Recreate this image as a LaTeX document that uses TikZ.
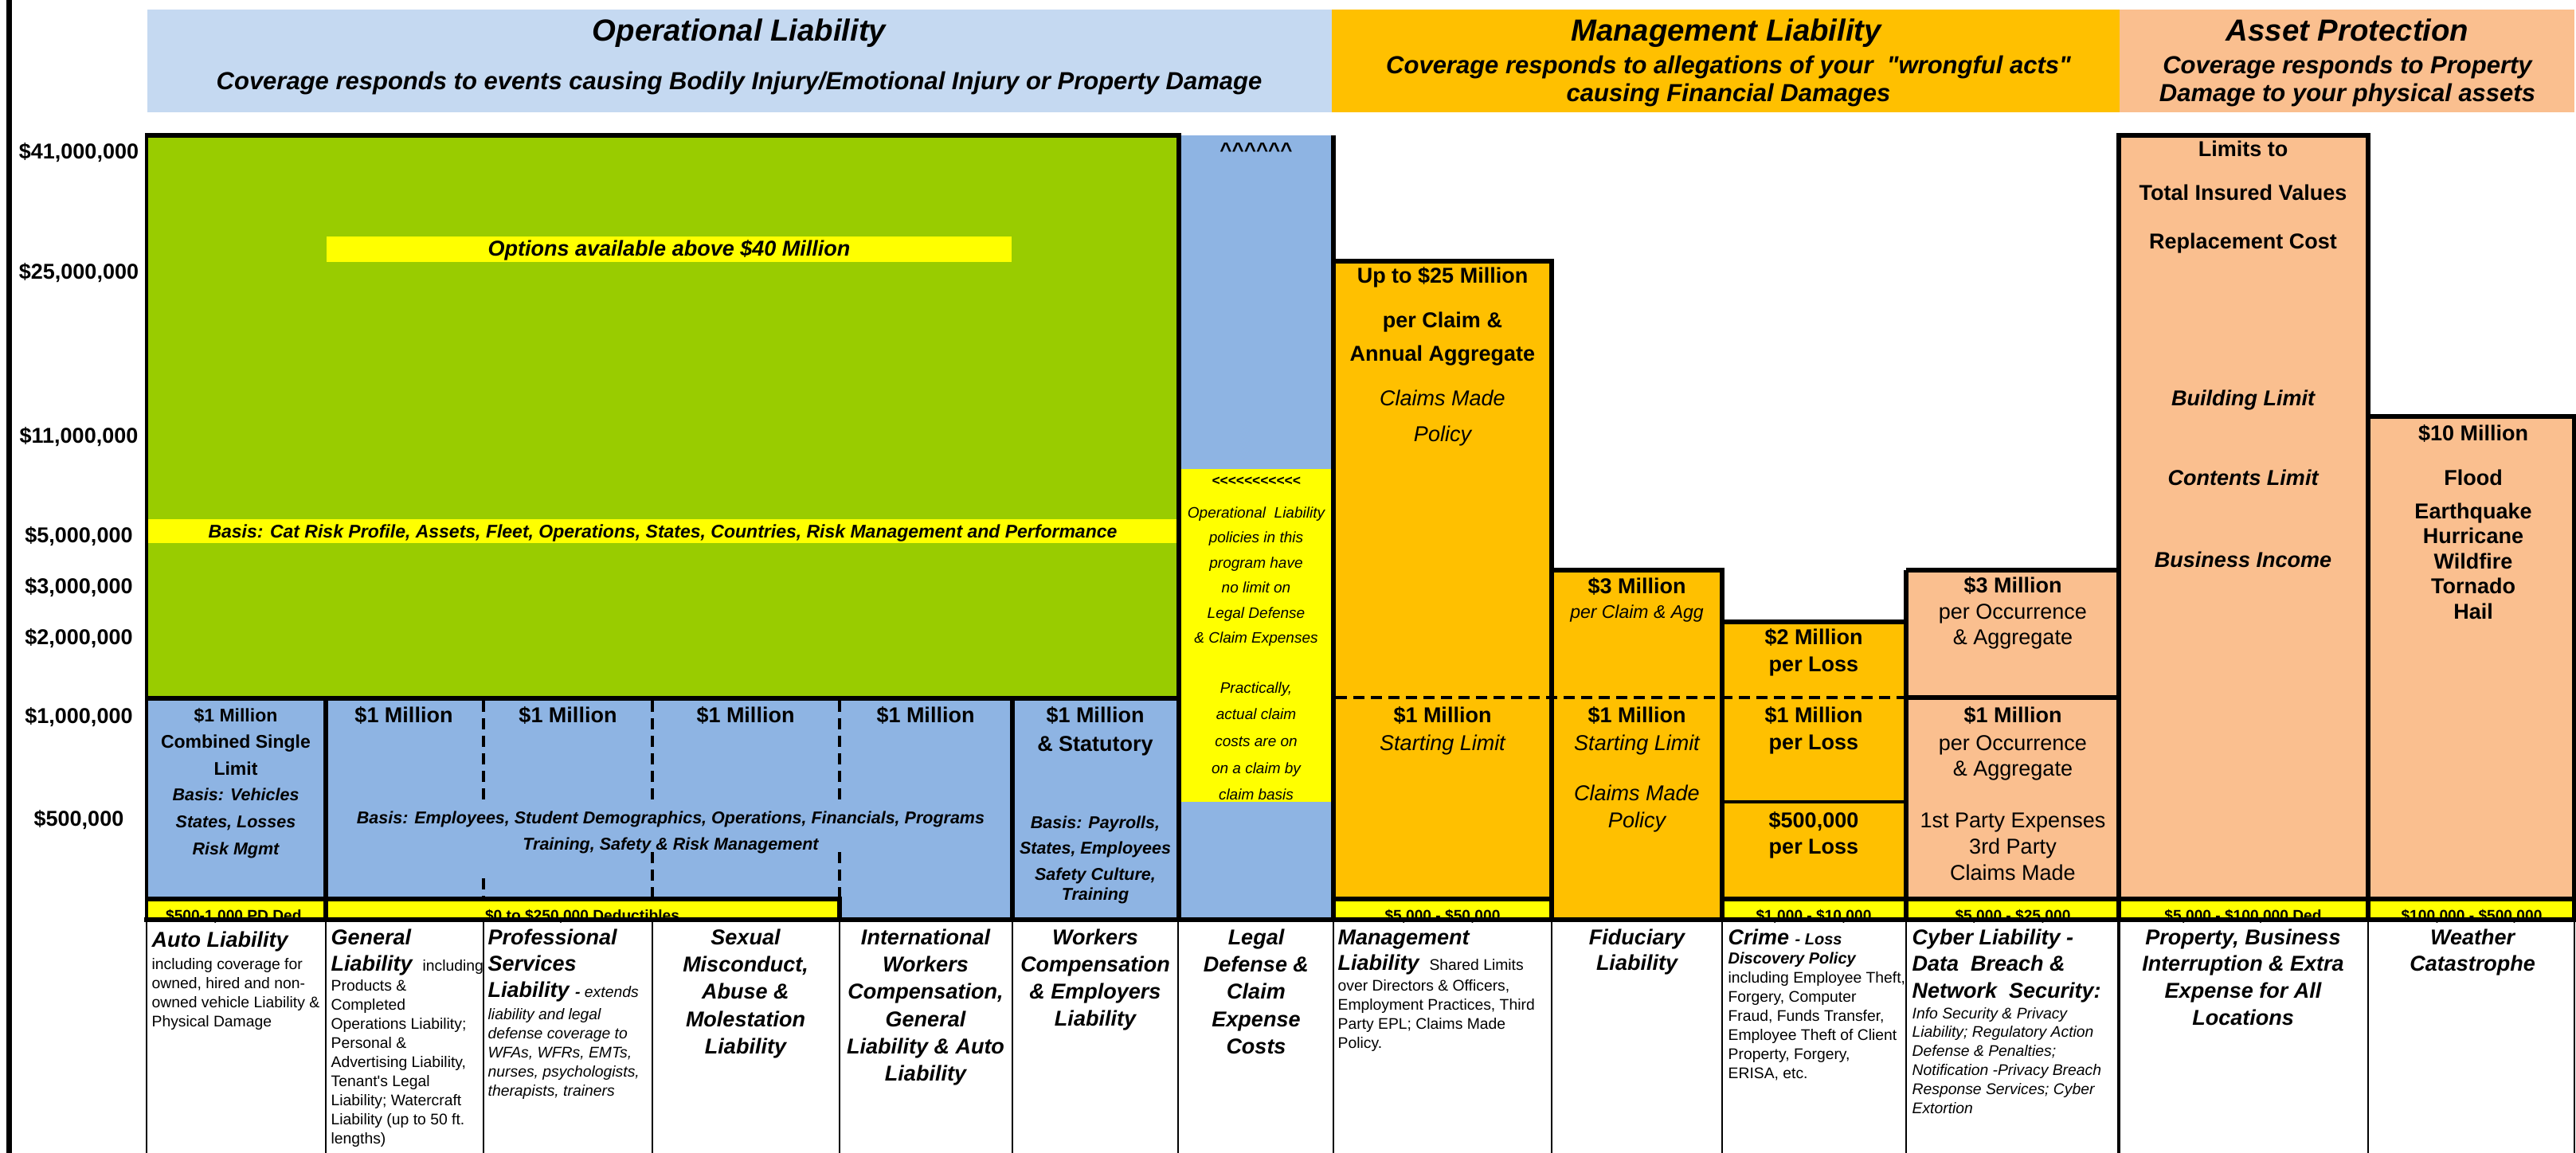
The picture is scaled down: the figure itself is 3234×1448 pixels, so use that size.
\documentclass[tikz,border=0pt]{standalone}
\usepackage{fontspec}
\newfontfamily\arial{Liberation Sans}
\definecolor{hdrblue}{HTML}{C5D9F1}
\definecolor{opgreen}{HTML}{99CC00}
\definecolor{opblue}{HTML}{8EB4E3}
\definecolor{mgmtorange}{HTML}{FFC000}
\definecolor{assetpeach}{HTML}{FABF8F}
\definecolor{dedyellow}{HTML}{FFFF00}
\newcommand{\setfs}[1]{\fontsize{#1}{#1}\selectfont}
\newcommand{\cblk}[3]{\parbox[t]{280pt}{\centering\fontsize{#1}{#2}\selectfont #3}}
\newcommand{\lblk}[3]{\parbox[t]{280pt}{\raggedright\fontsize{#1}{#2}\selectfont #3}}
\begin{document}
\arial
\begin{tikzpicture}[x=0.3pt,y=-0.3pt,
  tx/.style={inner sep=0pt,anchor=base},
  txw/.style={inner sep=0pt,anchor=base west},
  ylab/.style={tx,font=\setfs{8.1pt}\bfseries},
  hdr/.style={tx,font=\setfs{11.5pt}\bfseries\itshape},
  big/.style={tx,font=\setfs{8.1pt}\bfseries},
  bigit/.style={tx,font=\setfs{8.1pt}\itshape},
  bigbi/.style={tx,font=\setfs{8.1pt}\bfseries\itshape},
  ded/.style={tx,font=\setfs{5.75pt}\bfseries},
  rule/.style={line width=1.8pt},
  midrule/.style={line width=1.2pt},
  hair/.style={line width=0.75pt},
  dashrule/.style={line width=1.2pt,dash pattern=on 4.2pt off 2.4pt}]

\fill[white] (0,0) rectangle (3234,1448);
\useasboundingbox (0,0) rectangle (3234,1448);

% ---------- header bands ----------
\fill[hdrblue] (185,12) rectangle (1672,141);
\fill[mgmtorange] (1672,12) rectangle (2661,141);
\fill[assetpeach] (2661,12) rectangle (3232,141);

\node[hdr] (opTitle) at (928,52) {Operational Liability};
\node[tx,font=\setfs{9.3pt}\bfseries\itshape] (opSub) at (928,113)
  {Coverage responds to events causing Bodily Injury/Emotional Injury or Property Damage};
\node[hdr] (mgTitle) at (2167,52) {Management Liability};
\node[tx,font=\bfseries\itshape] (mgSub) at (2170,93)
  {\cblk{9.3pt}{10.5pt}{Coverage responds to allegations of your\ \ "wrongful acts"\\causing Financial Damages}};
\node[hdr] (asTitle) at (2947,52) {Asset Protection};
\node[tx,font=\bfseries\itshape] (asSub) at (2947,93)
  {\cblk{9.3pt}{10.5pt}{Coverage responds to Property\\Damage to your physical assets}};

% ---------- limit axis ----------
\node[ylab] (y41) at (99,199.5) {\$41,000,000};
\node[ylab] (y25) at (99,351) {\$25,000,000};
\node[ylab] (y11) at (99,556.5) {\$11,000,000};
\node[ylab] (y5m) at (99,681.5) {\$5,000,000};
\node[ylab] (y3m) at (99,745.5) {\$3,000,000};
\node[ylab] (y2m) at (99,809.5) {\$2,000,000};
\node[ylab] (y1m) at (99,908.5) {\$1,000,000};
\node[ylab] (y500) at (99,1037.5) {\$500,000};

% ---------- column fills ----------
\fill[opgreen] (184,170) rectangle (1480,877);
\fill[opblue] (1480,170) rectangle (1674,1155);
\fill[dedyellow] (1480,589) rectangle (1674,1007);
\fill[opblue] (184,877) rectangle (1480,1155);
\fill[dedyellow] (184,1129) rectangle (1054,1155);
\fill[mgmtorange] (1674,328) rectangle (1948,1155);
\fill[mgmtorange] (1948,716) rectangle (2162,1155);
\fill[mgmtorange] (2162,781) rectangle (2393,1155);
\fill[assetpeach] (2393,716) rectangle (2660,1155);
\fill[assetpeach] (2660,170) rectangle (2973,1155);
\fill[assetpeach] (2973,523) rectangle (3232,1155);
\fill[dedyellow] (1674,1129) rectangle (1948,1155);
\fill[dedyellow] (2162,1129) rectangle (3232,1155);
\fill[dedyellow] (410,297) rectangle (1270,329);
\fill[dedyellow] (184,652) rectangle (1480,682);

% ---------- operational liability ----------
\node[bigbi] (optBanner) at (840,322) {Options available above \$40 Million};
\node[tx,font=\setfs{6.9pt}\bfseries\itshape] (catBasis) at (832,675)
  {Basis: Cat Risk Profile, Assets, Fleet, Operations, States, Countries, Risk Management and Performance};

\node[tx,font=\bfseries] (autoLim) at (296,906)
  {\cblk{6.9pt}{10.1pt}{\$1 Million\\Combined Single\\Limit}};
\node[tx,font=\bfseries\itshape] (autoBasis) at (296,1005)
  {\cblk{6.45pt}{10.2pt}{Basis: Vehicles\\States, Losses\\Risk Mgmt}};
\node[big] (genLim) at (507,907) {\$1 Million};
\node[big] (proLim) at (713,907) {\$1 Million};
\node[big] (sexLim) at (936,907) {\$1 Million};
\node[big] (intLim) at (1162,907) {\$1 Million};
\node[big] (wcLim) at (1375,907) {\$1 Million};
\node[big] (wcStat) at (1375,943) {\& Statutory};
\node[tx,font=\bfseries\itshape] (genBasis) at (842,1034)
  {\cblk{6.45pt}{9.9pt}{Basis: Employees, Student Demographics, Operations, Financials, Programs\\Training, Safety \& Risk Management}};
\node[tx,font=\bfseries\itshape] (wcBasis) at (1375,1040)
  {\cblk{6.45pt}{9.75pt}{Basis: Payrolls,\\States, Employees\\Safety Culture,}};
\node[tx,font=\setfs{6.45pt}\bfseries\itshape] (wcBasisEnd) at (1375,1130) {Training};

% legal defense column
\node[tx,font=\setfs{7.8pt}\bfseries] (carets) at (1577,198)
  {\textasciicircum\textasciicircum\textasciicircum\textasciicircum\textasciicircum\textasciicircum};
\node[tx,font=\setfs{5.2pt}\bfseries\itshape] (leftArrows) at (1577,609) {<<<<<<<<<<<};
\node[tx,font=\itshape] (legalNote) at (1577,650)
  {\cblk{5.7pt}{9.48pt}{Operational\ \ Liability\\policies in this\\program have\\no limit on\\Legal Defense\\\& Claim Expenses}};
\node[tx,font=\itshape] (legalNote2) at (1577,870)
  {\cblk{5.7pt}{10.1pt}{Practically,\\actual claim\\costs are on\\on a claim by\\claim basis}};

% ---------- management liability ----------
\node[big] (mgUp) at (1811,355) {Up to \$25 Million};
\node[tx,font=\bfseries] (mgPer) at (1811,412) {\cblk{8.1pt}{12.6pt}{per Claim \&\\Annual Aggregate}};
\node[tx,font=\itshape] (mgCm) at (1811,509) {\cblk{8.1pt}{13.5pt}{Claims Made\\Policy}};
\node[big] (mgOne) at (1811,907) {\$1 Million};
\node[bigit] (mgStart) at (1811,942) {Starting Limit};

\node[big] (fdThree) at (2055,745) {\$3 Million};
\node[tx,font=\setfs{6.9pt}\itshape] (fdAgg) at (2055,776) {per Claim \& Agg};
\node[big] (fdOne) at (2055,907) {\$1 Million};
\node[bigit] (fdStart) at (2055,942) {Starting Limit};
\node[tx,font=\itshape] (fdCm) at (2055,1005) {\cblk{8.1pt}{10.2pt}{Claims Made\\Policy}};

\node[tx,font=\bfseries] (crTwo) at (2277,809) {\cblk{8.1pt}{10.2pt}{\$2 Million\\per Loss}};
\node[tx,font=\bfseries] (crOne) at (2277,907) {\cblk{8.1pt}{10.4pt}{\$1 Million\\per Loss}};
\node[tx,font=\bfseries] (crHalf) at (2277,1039) {\cblk{8.1pt}{9.9pt}{\$500,000\\per Loss}};

% ---------- asset protection ----------
\node[big] (cyThree) at (2527,744) {\$3 Million};
\node[tx] (cyOcc) at (2527,777) {\cblk{8.1pt}{9.6pt}{per Occurrence\\\& Aggregate}};
\node[big] (cyOne) at (2527,907) {\$1 Million};
\node[tx] (cyOcc2) at (2527,942) {\cblk{8.1pt}{9.6pt}{per Occurrence\\\& Aggregate}};
\node[tx] (cyParty) at (2527,1039) {\cblk{8.1pt}{9.9pt}{1st Party Expenses\\3rd Party\\Claims Made}};

\node[big] (prLim) at (2816,197) {Limits to};
\node[big] (prTiv) at (2816,252) {Total Insured Values};
\node[big] (prRc) at (2816,313) {Replacement Cost};
\node[bigbi] (prBld) at (2816,509) {Building Limit};
\node[bigbi] (prCnt) at (2816,609) {Contents Limit};
\node[bigbi] (prBi) at (2816,712) {Business Income};

\node[big] (wxTen) at (3105,553) {\$10 Million};
\node[big] (wxFlood) at (3105,609) {Flood};
\node[tx,font=\bfseries] (wxPerils) at (3105,651) {\cblk{8.1pt}{9.45pt}{Earthquake\\Hurricane\\Wildfire\\Tornado\\Hail}};

% ---------- deductibles ----------
\node[ded] (dedAuto) at (296,1156) {\$500-1,000 PD Ded.};
\node[ded] (dedGen) at (731,1156) {\$0 to \$250,000 Deductibles};
\node[ded] (dedMg) at (1811,1156) {\$5,000 - \$50,000};
\node[ded] (dedCr) at (2277,1156) {\$1,000 - \$10,000};
\node[ded] (dedCy) at (2527,1156) {\$5,000 - \$25,000};
\node[ded] (dedPr) at (2816,1156) {\$5,000 - \$100,000 Ded};
\node[ded] (dedWx) at (3103,1156) {\$100,000 - \$500,000};

% ---------- coverage descriptions ----------
\node[txw,font=\setfs{8.1pt}\bfseries\itshape] (dAutoT) at (190,1189) {Auto Liability};
\node[txw] (dAutoB) at (190,1217)
  {\lblk{5.8pt}{7.2pt}{including coverage for\\owned, hired and non-\\owned vehicle Liability \&\\Physical Damage}};
\node[txw,font=\bfseries\itshape] (dGenT) at (415,1186)
  {\lblk{8.1pt}{9.9pt}{General\\Liability {\mdseries\upshape\setfs{5.8pt} including}}};
\node[txw] (dGenB) at (415,1244)
  {\lblk{5.8pt}{7.23pt}{Products \&\\Completed\\Operations Liability;\\Personal \&\\Advertising Liability,\\Tenant's Legal\\Liability; Watercraft\\Liability (up to 50 ft.\\lengths)}};
\node[txw,font=\bfseries\itshape] (dProT) at (612,1186)
  {\lblk{8.1pt}{9.9pt}{Professional\\Services\\Liability {\setfs{5.8pt}- {\mdseries extends}}}};
\node[txw,font=\itshape] (dProB) at (612,1280)
  {\lblk{5.8pt}{7.2pt}{liability and legal\\defense coverage to\\WFAs, WFRs, EMTs,\\nurses, psychologists,\\therapists, trainers}};
\node[tx,font=\bfseries\itshape] (dSex) at (936,1186)
  {\cblk{8.1pt}{10.3pt}{Sexual\\Misconduct,\\Abuse \&\\Molestation\\Liability}};
\node[tx,font=\bfseries\itshape] (dInt) at (1162,1186)
  {\cblk{8.1pt}{10.3pt}{International\\Workers\\Compensation,\\General\\Liability \& Auto\\Liability}};
\node[tx,font=\bfseries\itshape] (dWc) at (1375,1186)
  {\cblk{8.1pt}{10.2pt}{Workers\\Compensation\\\& Employers\\Liability}};
\node[tx,font=\bfseries\itshape] (dLegal) at (1577,1186)
  {\cblk{8.1pt}{10.3pt}{Legal\\Defense \&\\Claim\\Expense\\Costs}};
\node[txw,font=\bfseries\itshape] (dMgT) at (1679,1186)
  {\lblk{8.1pt}{9.6pt}{Management\\Liability {\mdseries\upshape\setfs{5.8pt} Shared Limits}}};
\node[txw] (dMgB) at (1679,1244)
  {\lblk{5.8pt}{7.2pt}{over Directors \& Officers,\\Employment Practices, Third\\Party EPL; Claims Made\\Policy.}};
\node[tx,font=\bfseries\itshape] (dFid) at (2055,1186) {\cblk{8.1pt}{9.6pt}{Fiduciary\\Liability}};
\node[txw,font=\bfseries\itshape] (dCrT) at (2169,1186) {\setfs{8.1pt}Crime {\setfs{6pt}- Loss}};
\node[txw,font=\setfs{6pt}\bfseries\itshape] (dCrT2) at (2169,1210) {Discovery Policy};
\node[txw] (dCrB) at (2169,1234)
  {\lblk{5.8pt}{7.2pt}{including Employee Theft,\\Forgery, Computer\\Fraud, Funds Transfer,\\Employee Theft of Client\\Property, Forgery,\\ERISA, etc.}};
\node[txw,font=\bfseries\itshape] (dCyT) at (2400,1186)
  {\lblk{8.1pt}{10.1pt}{Cyber Liability -\\Data\ \ Breach \&\\Network\ \ Security:}};
\node[txw,font=\itshape] (dCyB) at (2400,1279)
  {\lblk{5.8pt}{7.15pt}{Info Security \& Privacy\\Liability; Regulatory Action\\Defense \& Penalties;\\Notification -Privacy Breach\\Response Services; Cyber\\Extortion}};
\node[tx,font=\bfseries\itshape] (dPr) at (2816,1186)
  {\cblk{8.1pt}{10.1pt}{Property, Business\\Interruption \& Extra\\Expense for All\\Locations}};
\node[tx,font=\bfseries\itshape] (dWx) at (3104,1186) {\cblk{8.1pt}{10.1pt}{Weather\\Catastrophe}};

% ---------- rules ----------
\draw[line width=2.1pt] (11.5,0) -- (11.5,1448);
\draw[rule] (182,170) -- (1483,170);
\draw[midrule] (184,170) -- (184,1155);
\draw[rule] (184,877) -- (1480,877);
\draw[rule] (1480,170) -- (1480,1155);
\draw[rule] (1674,170) -- (1674,1155);
\draw[rule] (1674,328) -- (1948,328) -- (1948,1155);
\draw[rule] (1948,716) -- (2162,716) -- (2162,1155);
\draw[rule] (2162,781) -- (2393,781);
\draw[rule] (2393,716) -- (2660,716);
\draw[rule] (2393,716) -- (2393,1155);
\draw[rule] (2660,170) -- (2660,1155);
\draw[rule] (2657,170) -- (2973,170) -- (2973,1155);
\draw[rule] (2973,523) -- (3232,523) -- (3232,1155);
\draw[rule] (409,877) -- (409,1155);
\draw[rule] (1271,877) -- (1271,1155);
\draw[rule] (184,1129) -- (1054,1129) -- (1054,1155);
\draw[rule] (1674,1129) -- (1948,1129);
\draw[rule] (2162,1129) -- (3232,1129);
\draw[rule] (181,1155) -- (3234,1155);
\draw[midrule] (2162,1007) -- (2393,1007);
\draw[rule] (2393,876) -- (2660,876);
\draw[dashrule] (1677,876) -- (2393,876);
\draw[dashrule] (607,880) -- (607,1007) (607,1103) -- (607,1129);
\draw[dashrule] (819,880) -- (819,1007) (819,1070) -- (819,1129);
\draw[dashrule] (1054,880) -- (1054,1007) (1054,1070) -- (1054,1129);

% column separators of the description row
\foreach \cx in {184,409,607,819,1054,1271,1479,1674,1948,2162,2393,2973,3232}
  \draw[hair] (\cx,1155) -- (\cx,1448);
\draw[midrule] (2660,1155) -- (2660,1448);
\end{tikzpicture}
\end{document}
